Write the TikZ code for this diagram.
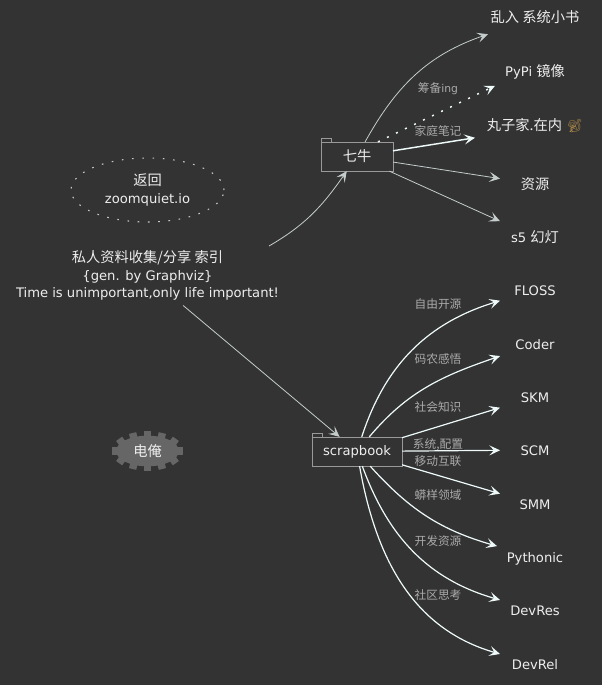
\documentclass[tikz,border=0pt]{standalone}
\usepackage{fontspec}
\usepackage{xcolor}
\usetikzlibrary{shapes.geometric,arrows.meta}
\setmainfont{DejaVu Sans}
\newfontfamily\cjk[Scale=1.085]{Noto Sans CJK SC}
\newfontfamily\emojifont{Noto Emoji}
\newcommand{\zh}[1]{{\cjk #1}}
\definecolor{bgcol}{HTML}{333333}
\definecolor{txtcol}{HTML}{EEEEEE}
\definecolor{lblcol}{HTML}{AAAAAA}
\definecolor{boxcol}{HTML}{999999}
\definecolor{thincol}{HTML}{C4CCCC}
\definecolor{edgecol}{HTML}{EEFAFA}
\definecolor{cogcol}{HTML}{666666}
\definecolor{monkeycol}{HTML}{A8844A}
\tikzset{
    leaf/.style={rectangle, inner sep=0pt, outer sep=0pt, minimum width=52.5pt, minimum height=27pt, text height=9pt, text depth=1.5pt, text=txtcol, font=\fontsize{9.85pt}{12pt}\selectfont},
    folder/.style={draw=boxcol, rectangle, inner sep=0pt, outer sep=0pt, minimum height=22pt, text=txtcol, font=\fontsize{9.85pt}{12pt}\selectfont,
        append after command={\pgfextra{\draw[boxcol] (\tikzlastnode.north west) -- ++(0,-4) -- ++(10,0) -- ++(0,4);}}},
    edgelabel/.style={text=lblcol, inner sep=0pt, font=\fontsize{8.1pt}{10pt}\selectfont},
    thinedge/.style={-{Stealth[length=8pt,width=7.5pt,inset=3.5pt]}, thincol, line width=0.6pt},
    edge/.style={-{Stealth[length=8pt,width=7.5pt,inset=3.5pt]}, edgecol, line width=0.9pt}
}
\begin{document}
\begin{tikzpicture}[x=0.75pt, y=-0.75pt]
    \fill[bgcol] (0,0) rectangle (602,685);
    \useasboundingbox (0,0) rectangle (602,685);

    % left side
    \node[draw=thincol, dash pattern=on 1.2pt off 6.5pt, line width=0.8pt, ellipse, inner sep=0pt, minimum width=114.75pt, minimum height=48pt, align=center, text=txtcol, font=\fontsize{9.85pt}{13.2pt}\selectfont] (back) at (147.5,190) {\zh{返回}\\zoomquiet.io};
    \node[rectangle, inner sep=0pt, outer sep=0pt, minimum width=183pt, minimum height=45pt, align=center, text=txtcol, font=\fontsize{9.85pt}{13pt}\selectfont] (title) at (147.5,275.5) {\zh{私人资料收集/分享 索引}\\\{gen. by Graphviz\}\\Time is unimportant,only life important!};
    \coordinate (titleout) at (269,246);

    % cog
    \fill[cogcol] (147.5,451) ellipse [x radius=23.5pt, y radius=11.5pt];
    \foreach \a in {0,35,64,90,116,145,180,215,244,270,296,325} {
        \pgfmathsetmacro\n{atan2(2*sin(\a),cos(\a))}
        \fill[cogcol, shift={({147.5+32*cos(\a)},{451+16*sin(\a)})}, rotate=-\n] (-3.7,-3.7) rectangle (3.7,3.7);
    }
    \node[text=txtcol, inner sep=0pt, font=\fontsize{9.85pt}{12pt}\selectfont] (cog) at (147.5,451) {\zh{电俺}};

    % folders
    \node[folder, minimum width=54pt] (qiniu) at (357,156.5) {\zh{七牛}};
    \node[folder, minimum width=67.5pt] (scrap) at (357,451.5) {scrapbook};

    % upper leaves
    \node[leaf, minimum width=70.5pt] (luanru) at (535,18) {\zh{乱入 系统小书}};
    \node[leaf, minimum width=60pt] (pypi) at (535,72) {PyPi \zh{镜像}};
    \node[leaf, minimum width=90pt] (wanzi) at (535,125) {\zh{丸子家.在内} {\emojifont\textcolor{monkeycol}{🐒}}};
    \node[leaf] (res) at (535,184) {\zh{资源}};
    \node[leaf] (sfive) at (535,237) {s5 \zh{幻灯}};

    % lower leaves
    \node[leaf] (floss) at (535,290) {FLOSS};
    \node[leaf] (coder) at (535,344) {Coder};
    \node[leaf] (skm) at (535,397) {SKM};
    \node[leaf] (scm) at (535,450) {SCM};
    \node[leaf] (smm) at (535,504) {SMM};
    \node[leaf, minimum width=57pt] (pythonic) at (535,557) {Pythonic};
    \node[leaf] (devres) at (535,610) {DevRes};
    \node[leaf] (devrel) at (535,664) {DevRel};

    % edge labels
    \node[edgelabel] (lbprep) at (438,89) {\zh{筹备}ing};
    \node[edgelabel] (lbhome) at (438,131.5) {\zh{家庭笔记}};
    \node[edgelabel] (lbfloss) at (438,304.5) {\zh{自由开源}};
    \node[edgelabel] (lbcoder) at (438,359.5) {\zh{码农感悟}};
    \node[edgelabel] (lbskm) at (438,407.5) {\zh{社会知识}};
    \node[edgelabel] (lbscma) at (438,444.5) {\zh{系统,配置}};
    \node[edgelabel] (lbscmb) at (438,461.5) {\zh{移动互联}};
    \node[edgelabel] (lbsmm) at (438,495.5) {\zh{蟒样领域}};
    \node[edgelabel] (lbpy) at (438,541.5) {\zh{开发资源}};
    \node[edgelabel] (lbres) at (438,595.5) {\zh{社区思考}};

    % connections
    \draw[thinedge] (titleout) to[out=30, in=235] (qiniu);
    \draw[thinedge] (title) -- (scrap);
    \draw[thinedge] (qiniu) to[out=61, in=199] (luanru);
    \draw[edge, dash pattern=on 1.5pt off 6pt, line width=1.1pt] (qiniu.35) -- (pypi.199);
    \draw[edge, line width=1.1pt] (qiniu.9) -- (wanzi.192);
    \draw[thinedge] (qiniu) -- (res);
    \draw[thinedge] (qiniu) -- (sfive);
    \draw[edge] (scrap) to[out=72, in=197] (floss);
    \draw[edge] (scrap) to[out=50, in=199] (coder);
    \draw[edge] (scrap) -- (skm);
    \draw[edge] (scrap) -- (scm);
    \draw[edge] (scrap) -- (smm);
    \draw[edge] (scrap) to[out=-48, in=164] (pythonic);
    \draw[edge] (scrap) to[out=-70, in=164] (devres);
    \draw[edge] (scrap) to[out=-80, in=164] (devrel);
\end{tikzpicture}
\end{document}
